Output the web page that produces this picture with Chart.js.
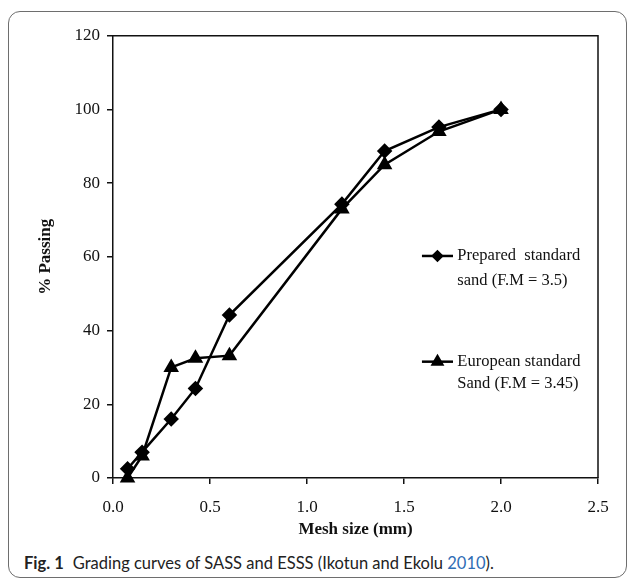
<!DOCTYPE html>
<html>
<head>
<meta charset="utf-8">
<script src="https://cdn.jsdelivr.net/npm/chart.js@4"></script>
<style>
    body { margin: 0; background: #fff; width: 629px; height: 582px; position: relative; overflow: hidden; }
    #frame {
        position: absolute; left: 8px; top: 11px; width: 619px; height: 567px;
        border: 1.5px solid #6e6e6e; border-radius: 12px; box-sizing: border-box;
    }
    #chartBox { position: absolute; left: 0; top: 0; }
    #caption {
        position: absolute; left: 24px; top: 552px; line-height: 22px;
        font-family: Lato, "Open Sans", sans-serif; font-size: 16.5px; color: #222; white-space: nowrap;
    }
    #caption b { font-weight: 700; margin-right: 9px; }
    #caption span { color: #2f6db5; }
</style>
</head>
<body>
<div id="frame"></div>
<div id="chartBox"><canvas id="gradingChart" width="629" height="540"></canvas></div>
<div id="caption"><b>Fig. 1</b>Grading curves of SASS and ESSS (Ikotun and Ekolu <span>2010</span>).</div>
<script>
    // sieve sizes (mm) and % passing for each sand
    const meshSizes = [0.075, 0.15, 0.3, 0.425, 0.6, 1.18, 1.4, 1.68, 2.0];
    const preparedPassing = [2.5, 7, 16, 24.3, 44.2, 74.3, 88.7, 95.2, 100];
    const europeanPassing = [0, 6, 30, 32.5, 33.2, 73, 85, 94, 100];

    const preparedLabel = ["Prepared  standard", "sand (F.M = 3.5)"];
    const europeanLabel = ["European standard", "Sand (F.M = 3.45)"];

    const serif = '"Liberation Serif", "Times New Roman", serif';

    function toPoints(values) {
        return meshSizes.map((x, i) => ({ x: x, y: values[i] }));
    }

    // box round the plot area plus the legend sitting inside it
    const framePlugin = {
        id: "frameAndLegend",
        afterDatasetsDraw(chart) {
            const ctx = chart.ctx;
            const area = chart.chartArea;
            const w = area.right - area.left;
            const h = area.bottom - area.top;

            ctx.save();
            ctx.strokeStyle = "#111";
            ctx.lineWidth = 1.5;
            ctx.beginPath();
            ctx.moveTo(area.left, area.top);
            ctx.lineTo(area.right, area.top);
            ctx.lineTo(area.right, area.bottom);
            ctx.stroke();

            const legendRows = [0.498, 0.737];
            const lineGaps = [25, 22];
            const markerSizes = [4.5, 5.5];
            chart.data.datasets.forEach((ds, i) => {
                const y = area.top + legendRows[i] * h;
                const x0 = area.left + 0.637 * w;
                const x1 = area.left + 0.701 * w;
                ctx.strokeStyle = "#000";
                ctx.lineWidth = 2.5;
                ctx.beginPath();
                ctx.moveTo(x0, y);
                ctx.lineTo(x1, y);
                ctx.stroke();
                ctx.fillStyle = "#000";
                Chart.helpers.drawPoint(ctx, {
                    pointStyle: ds.pointStyle,
                    radius: markerSizes[i],
                    rotation: 0,
                    borderWidth: 1
                }, (x0 + x1) / 2, y);

                ctx.fillStyle = "#111";
                ctx.font = "16.5px " + serif;
                ctx.textBaseline = "middle";
                ctx.textAlign = "left";
                ds.label.forEach((line, k) => {
                    ctx.fillText(line, area.left + 0.71 * w, y + k * lineGaps[i]);
                });
            });
            ctx.restore();
        }
    };

    const ctx = document.getElementById("gradingChart").getContext("2d");

    new Chart(ctx, {
        type: "line",
        data: {
            datasets: [{
                label: preparedLabel,
                data: toPoints(preparedPassing),
                borderColor: "#000",
                backgroundColor: "#000",
                borderWidth: 2.5,
                pointStyle: "rectRot",
                pointRadius: 6,
                pointHoverRadius: 6,
                clip: false
            }, {
                label: europeanLabel,
                data: toPoints(europeanPassing),
                borderColor: "#000",
                backgroundColor: "#000",
                borderWidth: 2.5,
                pointStyle: "triangle",
                pointRadius: 6.5,
                pointHoverRadius: 6.5,
                clip: false
            }]
        },
        options: {
            responsive: false,
            animation: false,
            layout: {
                padding: { left: 33, right: 31, top: 35.7, bottom: 0 }
            },
            plugins: {
                legend: { display: false },
                tooltip: { enabled: false }
            },
            scales: {
                x: {
                    type: "linear",
                    min: 0,
                    max: 2.5,
                    afterFit: (scale) => { scale.height = 62; },
                    ticks: {
                        stepSize: 0.5,
                        padding: 13,
                        color: "#111",
                        font: { family: serif, size: 17 },
                        callback: (v) => v.toFixed(1)
                    },
                    grid: { drawOnChartArea: false, drawTicks: true, tickLength: 6, color: "#111", lineWidth: 1.5 },
                    border: { display: true, color: "#111", width: 1.5 },
                    title: {
                        display: true,
                        text: "Mesh size (mm)",
                        color: "#111",
                        padding: { top: 0, bottom: 0 },
                        font: { family: serif, size: 17, weight: "bold" }
                    }
                },
                y: {
                    min: 0,
                    max: 120,
                    afterFit: (scale) => { scale.width = 80; },
                    ticks: {
                        stepSize: 20,
                        padding: 7,
                        color: "#111",
                        font: { family: serif, size: 17 }
                    },
                    grid: { drawOnChartArea: false, drawTicks: true, tickLength: 6, color: "#111", lineWidth: 1.5 },
                    border: { display: true, color: "#111", width: 1.5 },
                    title: {
                        display: true,
                        text: "% Passing",
                        color: "#111",
                        padding: { top: 2, bottom: 0 },
                        font: { family: serif, size: 17, weight: "bold" }
                    }
                }
            }
        },
        plugins: [framePlugin]
    });
</script>
</body>
</html>
